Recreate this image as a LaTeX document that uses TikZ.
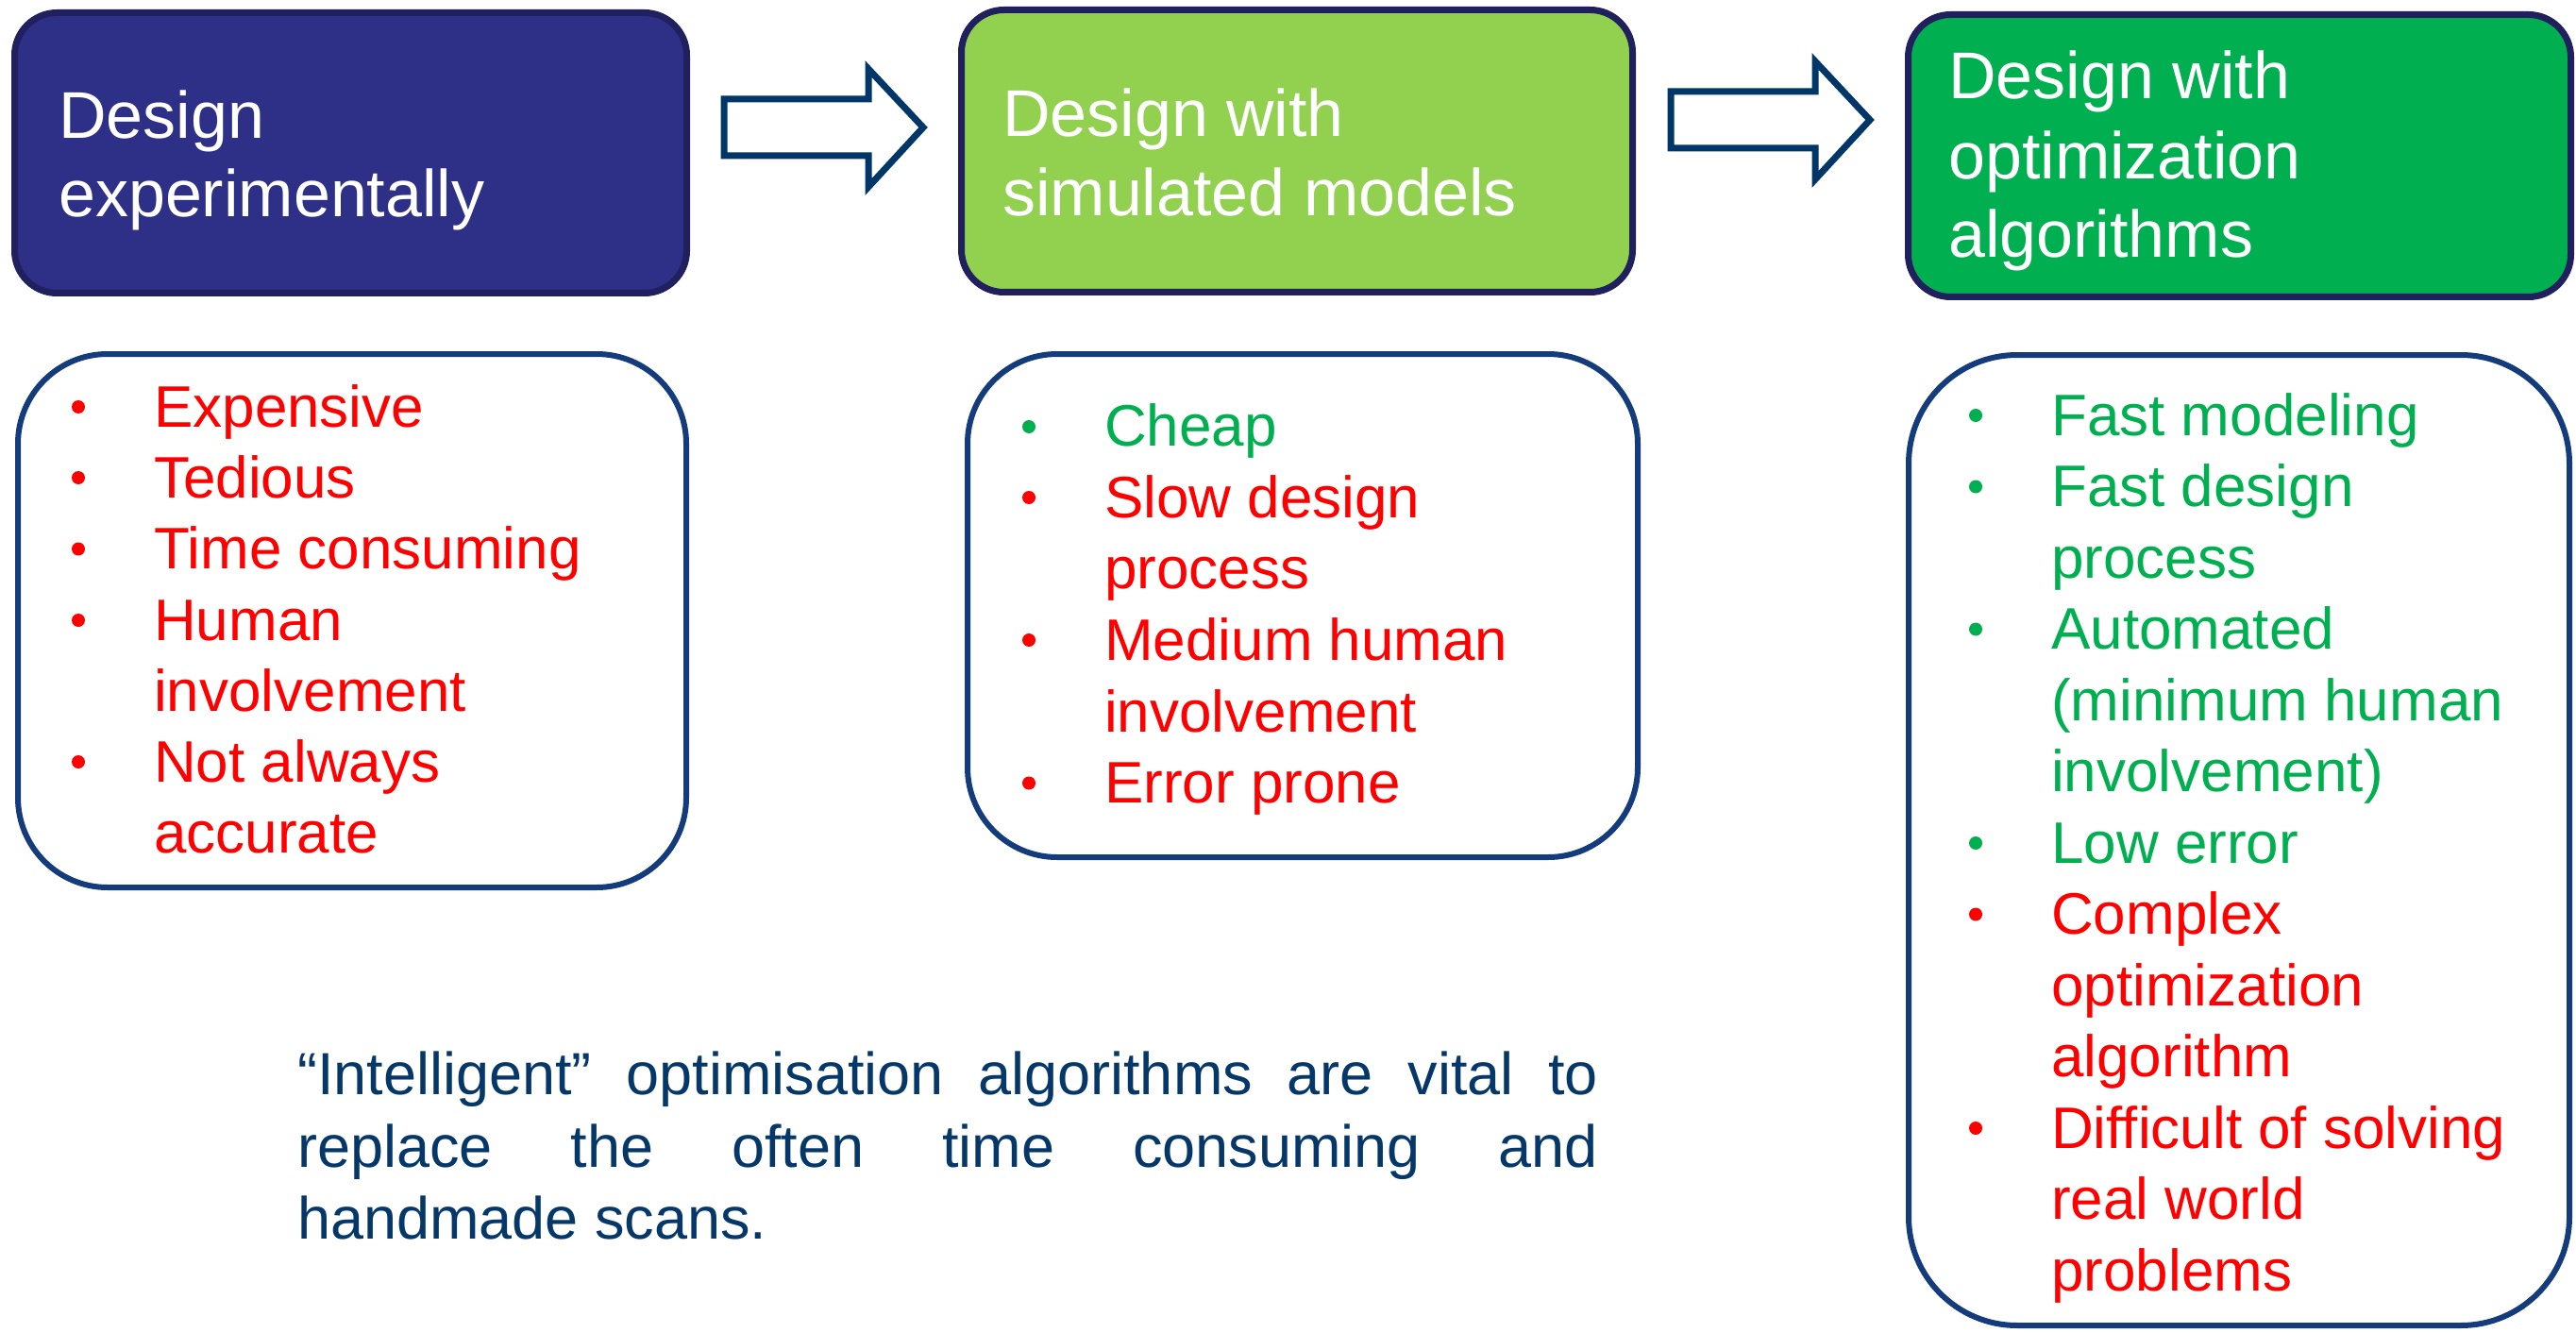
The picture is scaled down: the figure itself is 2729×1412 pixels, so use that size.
\documentclass[tikz,border=0pt]{standalone}
\usepackage{fontspec}
\setmainfont{Liberation Sans}
\definecolor{navyfill}{RGB}{46,48,135}
\definecolor{navyline}{RGB}{32,32,94}
\definecolor{lgreen}{RGB}{146,208,80}
\definecolor{dgreen}{RGB}{0,176,80}
\definecolor{arrowblue}{RGB}{0,54,104}
\definecolor{boxblue}{RGB}{20,60,125}
\definecolor{txtblue}{RGB}{5,55,105}
\definecolor{redtxt}{RGB}{255,0,0}
\definecolor{greentxt}{RGB}{0,176,80}
\tikzset{
  topbox/.style={draw=navyline, line width=7pt, rounded corners=45pt, inner sep=0pt, rectangle},
  listbox/.style={draw=boxblue, line width=6pt, fill=white, inner sep=0pt, rectangle},
  headtxt/.style={anchor=base west, inner sep=0pt, text=white, font=\fontsize{70}{84}\selectfont},
  itemtxt/.style={anchor=base west, inner sep=0pt, font=\fontsize{62}{75}\selectfont},
  pro/.style={itemtxt, text=greentxt},
  con/.style={itemtxt, text=redtxt},
  blockarrow/.style={draw=arrowblue, line width=7pt, fill=white, miter limit=10},
  paratxt/.style={anchor=base west, inner sep=0pt, text=txtblue, font=\fontsize{63}{76}\selectfont},
  bulpro/.style={circle, fill=greentxt, inner sep=0pt, minimum size=14pt},
  bulcon/.style={circle, fill=redtxt, inner sep=0pt, minimum size=14pt},
}
\begin{document}
\begin{tikzpicture}[x=1pt,y=-1pt]
\useasboundingbox (0,0) rectangle (2729,1412);
\fill[white] (0,0) rectangle (2729,1412);

% header boxes
\node[topbox, fill=navyfill, minimum width=712pt, minimum height=297pt] (h1) at (371.5,162) {};
\node[topbox, fill=lgreen, minimum width=711pt, minimum height=299pt] (h2) at (1374,160) {};
\node[topbox, fill=dgreen, minimum width=702pt, minimum height=299pt] (h3) at (2372.5,165) {};

\node[headtxt] (h1a) at (62,147) {Design};
\node[headtxt] (h1b) at (62,230) {experimentally};
\node[headtxt] (h2a) at (1062,145) {Design with};
\node[headtxt] (h2b) at (1062,229) {simulated models};
\node[headtxt] (h3a) at (2064,105) {Design with};
\node[headtxt] (h3b) at (2064,190) {optimization};
\node[headtxt] (h3c) at (2064,273) {algorithms};

% block arrows
\draw[blockarrow] (767,105) -- (920,105) -- (920,73) -- (978,135) -- (920,198) -- (920,165) -- (767,165) -- cycle;
\draw[blockarrow] (1770,97) -- (1923,97) -- (1923,65) -- (1981,127) -- (1923,190) -- (1923,157) -- (1770,157) -- cycle;

% list boxes
\node[listbox, rounded corners=95pt, minimum width=708pt, minimum height=565pt] (l1) at (373,657.5) {};
\node[listbox, rounded corners=95pt, minimum width=710pt, minimum height=533pt] (l2) at (1380,641.5) {};
\node[listbox, rounded corners=115pt, minimum width=700pt, minimum height=1028pt] (l3) at (2372,890) {};

% list 1
\node[bulcon] (d11) at (83,431) {};
\node[con] (a11) at (163,452) {Expensive};
\node[bulcon] (d12) at (83,506) {};
\node[con] (a12) at (163,527) {Tedious};
\node[bulcon] (d13) at (83,581.5) {};
\node[con] (a13) at (163,602.5) {Time consuming};
\node[bulcon] (d14) at (83,657) {};
\node[con] (a14) at (163,678) {Human};
\node[con] (a15) at (163,753) {involvement};
\node[bulcon] (d16) at (83,807) {};
\node[con] (a16) at (163,828) {Not always};
\node[con] (a17) at (163,903.5) {accurate};

% list 2
\node[bulpro] (d21) at (1090,452) {};
\node[pro] (a21) at (1170,472.5) {Cheap};
\node[bulcon] (d22) at (1090,527) {};
\node[con] (a22) at (1170,548) {Slow design};
\node[con] (a23) at (1170,623.5) {process};
\node[bulcon] (d24) at (1090,678) {};
\node[con] (a24) at (1170,699) {Medium human};
\node[con] (a25) at (1170,775) {involvement};
\node[bulcon] (d26) at (1090,829.5) {};
\node[con] (a26) at (1170,850.5) {Error prone};

% list 3
\node[bulpro] (d31) at (2093,440) {};
\node[pro] (a31) at (2173,461) {Fast modeling};
\node[bulpro] (d32) at (2093,515.5) {};
\node[pro] (a32) at (2173,536.5) {Fast design};
\node[pro] (a33) at (2173,612) {process};
\node[bulpro] (d34) at (2093,666.5) {};
\node[pro] (a34) at (2173,687.5) {Automated};
\node[pro] (a35) at (2173,763) {(minimum human};
\node[pro] (a36) at (2173,838.5) {involvement)};
\node[bulpro] (d37) at (2093,893) {};
\node[pro] (a37) at (2173,914) {Low error};
\node[bulcon] (d38) at (2093,968.5) {};
\node[con] (a38) at (2173,989.5) {Complex};
\node[con] (a39) at (2173,1065) {optimization};
\node[con] (a310) at (2173,1140.5) {algorithm};
\node[bulcon] (d311) at (2093,1195) {};
\node[con] (a311) at (2173,1216) {Difficult of solving};
\node[con] (a312) at (2173,1291.5) {real world};
\node[con] (a313) at (2173,1367) {problems};

% paragraph
\node[paratxt] (p1) at (315,1159) {\makebox[1378pt][s]{“Intelligent” optimisation algorithms are vital to}};
\node[paratxt] (p2) at (315,1236) {\makebox[1378pt][s]{replace the often time consuming and}};
\node[paratxt] (p3) at (315,1312) {handmade scans.};
\end{tikzpicture}
\end{document}
